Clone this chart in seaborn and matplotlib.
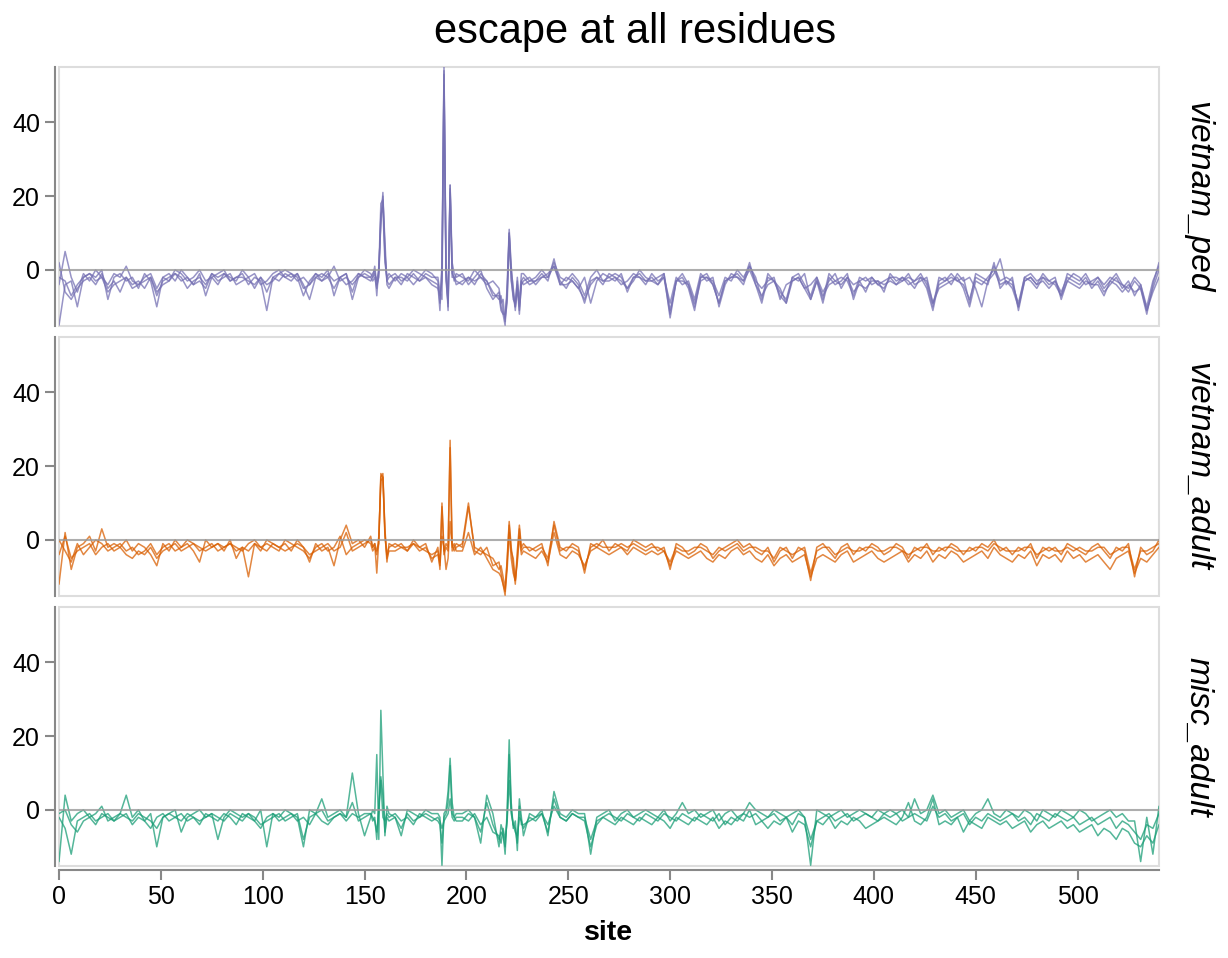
import matplotlib
matplotlib.use("Agg")
import matplotlib.pyplot as plt
import matplotlib.patches as mpatches
import seaborn as sns
import pandas as pd

# site positions (finer steps around the escape peaks)
sites = (list(range(0, 153, 3)) + list(range(153, 163)) + list(range(165, 186, 3))
         + list(range(186, 196)) + list(range(198, 216, 3)) + list(range(216, 228))
         + list(range(228, 541, 3)))

# vietnam_ped
ped_1 = [-15, -4, -3, -10, -2, -1, -2, 0, -8, -2,
         -1, -3, -2, -5, -1, -3, -10, -2, -1, -3,
         0, -2, -4, -1, -7, -2, -1, 0, -3, -2,
         -1, -4, -2, -3, -11, -2, -1, 0, -1, -2,
         -7, -3, -1, -2, 0, -7, -2, -1, -8, -2,
         -1,
         -2, -1, 0, -7, 1, 12, 21, 5, -3, -2,
         -1, -3, -2, 0, -1, -2, -3,
         -4, -11, 2, 55, 1, -11, 23, 2, -1, -2,
         -1, -4, -2, 0, -5, -8,
         -6, -10, -12, -15, -4, 11, 1, -6, -11, -4, -12, -3,
         -2, -4, -3, -1, -3, 3, -4, -2, -3, -5,
         -2, -9, -3, -1, -2, -3, -1, -6, -2, -1,
         -3, -2, -4, -1, -13, -3, -2, -5, -11, -2,
         -1, -4, -9, -3, -2, -1, -3, 2, -4, -9,
         -2, -3, -5, -9, -2, -3, -1, -8, -3, -9,
         -2, -4, -3, -1, -8, -3, -2, -4, -3, -6,
         -1, -3, -2, -4, -3, -2, -5, -11, -3, -2,
         -4, -1, -3, -2, -5, -10, -3, -1, 3, -4,
         -2, -11, -3, -2, -4, -1, -3, -2, -8, -3,
         -1, -2, -4, -3, -2, -5, -3, -1, -4, -6,
         -3, -5, -12, -4, 2]
ped_2 = [2, -6, -8, -5, -3, -2, -4, -1, -5, -3,
         -6, -2, -4, -3, -5, -2, -6, -4, -3, -1,
         -2, -5, -3, -2, -4, -1, -3, -2, -1, -4,
         -3, -2, -5, -2, -4, -3, -1, -2, -3, -1,
         -4, -8, -2, -3, -1, -3, -2, -4, -3, -1,
         -2,
         -3, -2, -1, -3, 0, 18, 19, 8, -4, -5,
         -2, -4, -1, -2, -3, -1, -2,
         -2, -6, -8, 53, -3, -9, 21, -1, -2, -4,
         -3, -2, -4, -1, -3, -6,
         -8, -7, -11, -13, -9, 9, -2, -8, -9, -3, -11, -4,
         -3, -2, -4, -2, -1, 1, -3, -5, -2, -4,
         -9, -3, -2, -4, -1, -2, -4, -3, -1, -2,
         -4, -1, -3, -2, -9, -2, -4, -3, -8, -1,
         -3, -2, -10, -4, -1, -2, -4, 1, -3, -5,
         -3, -2, -8, -4, -3, -2, -5, -4, -2, -6,
         -3, -1, -5, -2, -4, -3, -6, -2, -4, -3,
         -2, -4, -3, -1, -4, -3, -2, -9, -4, -3,
         -2, -3, -4, -8, -2, -3, -4, 2, -5, -3,
         -4, -9, -2, -3, -5, -2, -4, -3, -6, -2,
         -3, -4, -2, -5, -3, -6, -4, -2, -5, -3,
         -7, -4, -11, -5, 0]
ped_3 = [-4, 5, -2, -6, -1, -3, 0, -2, -4, -1,
         -2, 1, -3, -4, -2, -1, -5, -2, -3, 0,
         -1, -3, -2, 0, -3, -2, -4, -1, -2, -3,
         0, -2, -1, -4, -3, -1, 0, -2, -1, -3,
         -2, -4, -1, -3, -2, 1, -3, -2, -4, -2,
         0,
         -1, -2, 1, -4, -2, 15, 17, 2, -2, -1,
         -3, -1, -2, -4, -2, 0, -1,
         -3, -9, 0, 50, 0, -10, 22, 0, -3, -1,
         -2, -3, 0, -2, -4, -3,
         -5, -9, -8, -14, -6, 10, 0, -5, -10, -2, -9, -1,
         -1, -3, -2, 0, -2, 2, -2, -3, -1, -3,
         -7, -2, 0, -3, -2, -1, -2, -5, -3, 0,
         -2, -3, -2, -1, -11, -3, -1, -4, -9, -2,
         -2, -3, -7, -2, -3, 0, -2, 1, -2, -8,
         -1, -3, -6, -8, -2, -1, -4, -7, -2, -8,
         -1, -3, -2, -3, -7, -2, -3, -2, -4, -5,
         -2, -2, -3, -2, -3, -1, -4, -10, -2, -3,
         -1, -3, -2, -9, -1, -2, -3, 1, -3, -2,
         -3, -10, -2, -1, -3, -2, -3, -4, -7, -1,
         -2, -3, -1, -4, -2, -4, -2, -3, -4, -5,
         -2, -4, -10, -3, 1]
ped_4 = [-2, -3, -7, -4, -2, -1, -3, -2, -6, -4,
         -3, -2, -5, -4, -3, -2, -7, -3, -2, -1,
         -3, -2, -4, -3, -5, -1, -2, -1, -3, -2,
         -2, -3, -4, -2, -6, -2, -3, -1, -2, -1,
         -5, -4, -2, -1, -2, -5, -2, -1, -6, -1,
         -2,
         -2, -3, -2, -5, -1, 14, 20, 4, -3, -4,
         -2, -2, -3, -1, -3, -2, -4,
         -5, -7, -3, 54, -2, -8, 23, -2, -2, -3,
         -4, -2, -3, -2, -3, -7,
         -7, -11, -12, -12, -7, 10, -3, -7, -10, -5, -10, -3,
         -4, -3, -3, -2, -2, 1, -4, -4, -3, -5,
         -8, -4, -2, -3, -3, -2, -3, -5, -2, -2,
         -3, -3, -4, -2, -12, -3, -3, -4, -10, -3,
         -2, -4, -9, -3, -2, -2, -3, 0, -4, -7,
         -4, -3, -7, -9, -3, -2, -5, -8, -3, -7,
         -4, -3, -4, -2, -6, -4, -5, -3, -3, -4,
         -3, -4, -2, -3, -5, -2, -3, -9, -5, -4,
         -3, -2, -5, -10, -3, -4, -2, 0, -4, -3,
         -5, -10, -3, -2, -4, -3, -5, -3, -7, -3,
         -4, -5, -3, -4, -4, -7, -3, -4, -6, -4,
         -6, -5, -11, -6, -2]

# vietnam_adult
adult_1 = [-12, 2, -8, -2, -1, 1, -3, 3, -2, -1,
           -2, 0, -3, -1, -2, -4, -7, -1, -3, 0,
           -2, -1, -3, -6, 0, -2, -1, -3, 0, -5,
           -2, -10, -1, -3, 0, -1, -2, -1, -3, 0,
           -2, -6, -1, -3, -2, -7, 0, 4, -1, 0,
           -2,
           1, -2, -1, -9, 0, 17, 18, 2, -6, -1,
           -2, -1, -3, 0, -2, -1, -6,
           -2, -8, 10, -3, -1, -2, 27, -1, -3, -2,
           -1, 10, -3, -4, -2, -7,
           -6, -9, -12, -15, -5, 5, -2, -7, -12, -3, 4, -2,
           -1, -3, -2, -1, -7, 5, -2, -3, -1, -2,
           -9, -1, -2, 0, -3, -1, -2, -3, 0, -1,
           -2, -1, -3, -2, -8, -1, -2, -4, -3, -1,
           -2, -5, -3, -2, -1, 0, -2, -1, -3, -4,
           -2, -6, -3, -2, -5, -2, -3, -11, -2, -1,
           -3, -5, -2, -1, -4, -2, -3, -1, -2, -4,
           -3, -1, -2, -5, -2, -3, -1, -4, -2, -3,
           -1, -2, -4, -2, -3, -1, -2, 0, -3, -2,
           -4, -2, -3, -1, -5, -2, -3, -2, -4, -1,
           -2, -3, -4, -2, -1, -3, -5, -2, -3, -1,
           -10, -2, -4, -3, 0]
adult_2 = [0, -3, -6, -1, -4, -2, 0, -1, -3, -2,
           -1, -3, -2, -4, -3, -1, -4, -2, -1, -3,
           -2, 0, -1, -3, -2, -1, -3, -2, -1, -2,
           -3, -1, 0, -2, -1, -2, -3, 0, -1, -2,
           -3, -5, -2, -1, -3, -2, 1, -4, -2, -1,
           0,
           -1, -3, -2, -4, 1, 16, 17, 1, -4, -2,
           -1, -2, -3, -1, -2, -3, -4,
           -3, -6, 9, -4, -2, -3, 25, -3, -2, -1,
           -2, 9, -2, -3, -4, -5,
           -8, -7, -10, -13, -6, 4, -3, -5, -11, -5, 3, -3,
           -2, -2, -3, -2, -5, 4, -3, -2, -2, -3,
           -8, -2, -1, -2, -2, -2, -1, -2, -1, -2,
           -3, -2, -2, -3, -6, -2, -3, -3, -2, -2,
           -3, -4, -2, -3, -2, -1, -3, -2, -2, -3,
           -3, -5, -2, -3, -4, -3, -2, -9, -3, -2,
           -2, -4, -3, -2, -3, -3, -2, -2, -3, -3,
           -2, -2, -3, -4, -3, -2, -2, -3, -3, -2,
           -2, -3, -3, -3, -2, -2, -3, -1, -2, -3,
           -3, -3, -2, -2, -4, -3, -2, -3, -3, -2,
           -3, -2, -3, -3, -2, -2, -4, -3, -2, -2,
           -8, -3, -3, -2, -1]
adult_3 = [-4, 1, -5, -3, -2, -1, -4, -2, -1, -3,
           -2, -4, -5, -3, -4, -2, -5, -3, -2, -1,
           -3, -2, -1, -2, -3, -2, -1, -2, -1, -3,
           -2, -3, -1, -2, -3, -1, -2, -3, -2, -1,
           -2, -4, -3, -2, -1, -3, -2, 2, -3, -2,
           -1,
           0, -2, -1, -3, -1, 18, 17, 3, -5, -3,
           -3, -2, -2, -1, -3, -2, -5,
           -4, -7, 1, -2, -8, -5, 5, -2, -1, -3,
           -3, 2, -4, -2, -5, -8,
           -9, -10, -12, -14, -8, 2, -5, -9, -11, -6, 1, -4,
           -3, -4, -5, -3, -6, 2, -4, -5, -3, -4,
           -7, -3, -2, -3, -4, -3, -2, -4, -2, -3,
           -4, -3, -4, -3, -7, -3, -4, -5, -4, -3,
           -5, -6, -4, -5, -3, -2, -4, -3, -5, -6,
           -4, -7, -5, -4, -6, -5, -4, -10, -5, -4,
           -5, -6, -4, -3, -6, -5, -4, -3, -5, -6,
           -5, -4, -3, -6, -4, -5, -3, -6, -4, -5,
           -3, -4, -6, -5, -4, -3, -5, -2, -4, -5,
           -6, -4, -5, -3, -7, -4, -5, -4, -6, -3,
           -5, -4, -6, -5, -4, -6, -8, -5, -4, -3,
           -9, -5, -6, -4, -2]

# misc_adult
misc_1 = [-14, 4, -3, -1, 0, -2, -1, 1, -3, -2,
          -1, 4, -2, 0, -3, -1, -10, -2, -1, 0,
          -6, -2, -1, 0, -2, -1, -8, -2, 0, -1,
          -2, -1, -3, 0, -10, -1, -2, 0, -1, -2,
          -10, 0, -1, 3, -2, -1, 0, -2, 10, -1,
          -7,
          -2, 0, -1, 15, -8, 27, 10, -7, 1, -1,
          -2, -7, 0, -1, -2, 0, -1,
          -1, -2, -15, -1, 0, 5, 14, 2, -2, -1,
          -1, 0, -2, -9, 4, -1,
          -10, -4, -6, -12, 0, 19, 2, -5, -3, -11, 3, -2,
          -7, -1, -2, 0, -7, 5, -1, -2, 0, -1,
          -1, -12, -2, -1, 0, -3, -1, 0, -2, -1,
          0, -1, -2, 0, -3, -1, 2, -1, 0, -2,
          -1, 0, -3, -1, 0, -2, -1, 2, 0, -1,
          -2, 0, -1, -2, -1, 0, -2, -15, 0, -1,
          -2, -1, 0, -2, -1, 0, -1, -2, 0, -1,
          0, -1, 0, -2, 3, -1, 0, 4, -1, 0,
          -2, -1, 0, -3, -1, 0, 3, -1, -2, 0,
          -1, -2, 0, -1, -3, 0, -1, -2, 0, -1,
          -2, 0, -1, -3, -2, -1, 0, -2, -1, -3,
          -3, -14, -2, -12, 1]
misc_2 = [-2, -5, -12, -3, -2, -1, -3, -2, -1, -3,
          -2, -1, -4, -2, -3, -5, -2, -1, -3, -2,
          -1, -3, -2, -4, -1, -2, -3, -1, -2, -4,
          -1, -2, -3, -5, -2, -1, -3, -2, -1, -3,
          -2, -4, -1, 0, -3, -2, -1, -3, -1, -2,
          -1,
          -1, -3, -2, -8, 1, 8, -2, -3, -1, -2,
          -1, -3, -2, -4, -1, -2, -3,
          -2, -3, -5, -3, -2, -1, 3, -2, -3, -2,
          -2, -3, -1, -4, -2, -6,
          -7, -9, -5, -8, -3, 8, -1, -4, -6, -7, -2, -3,
          -5, -2, -3, -1, -4, 1, -2, -3, -1, -2,
          -2, -8, -3, -2, -1, -2, -3, -1, -2, -3,
          -1, -2, -3, -1, -2, -3, -1, -2, -3, -1,
          -2, -3, -1, -4, -2, -3, -1, -2, -1, -3,
          -2, -1, -3, -2, -4, -1, -2, -8, -3, -2,
          -1, -3, -2, -1, -3, -2, -1, -2, -3, -1,
          -2, -1, -3, -2, -1, -2, -3, 1, -2, -1,
          -3, -2, -1, -4, -2, -3, -1, -2, -3, -2,
          -1, -3, -2, -4, -1, -2, -3, -1, -2, -3,
          -2, -4, -3, -2, -4, -3, -2, -5, -3, -4,
          -6, -8, -4, -5, -1]
misc_3 = [-1, 0, -4, -6, -3, -2, -4, -1, -2, -3,
          -1, -2, -3, -1, -2, -3, -5, -2, -1, -2,
          -3, -1, -2, -3, -2, -1, -2, -3, -1, -2,
          -3, -1, -2, -4, -3, -2, -1, -3, -2, -1,
          -8, -2, -1, -3, -4, -2, -1, -2, 2, -3,
          -2,
          -1, -2, -3, -6, 0, 9, 4, -6, -2, -3,
          -2, -5, -1, -3, -2, -1, -2,
          -3, -4, -9, -2, -1, 2, 12, -1, -2, -3,
          -3, -1, -2, -6, 2, -4,
          -8, -6, -7, -10, -2, 15, 0, -4, -5, -9, 1, -4,
          -4, -3, -2, -1, -6, 3, -2, -3, -1, -2,
          -3, -10, -4, -2, -3, -4, -2, -3, -4, -2,
          -3, -4, -2, -3, -5, -2, -3, -4, -2, -3,
          -4, -2, -5, -3, -4, -2, -3, 0, -4, -3,
          -5, -3, -4, -2, -6, -3, -4, -10, -3, -4,
          -2, -5, -3, -4, -2, -3, -5, -4, -3, -2,
          -3, -4, -2, 2, -3, -4, -2, 3, -4, -3,
          -4, -2, -6, -3, -4, -5, -2, -3, -4, -3,
          -5, -4, -3, -6, -4, -3, -5, -4, -3, -5,
          -4, -6, -5, -4, -7, -5, -6, -8, -5, -6,
          -9, -10, -7, -9, -4]

groups = ["vietnam_ped", "vietnam_adult", "misc_adult"]
group_lines = {
    "vietnam_ped": [ped_1, ped_2, ped_3, ped_4],
    "vietnam_adult": [adult_1, adult_2, adult_3],
    "misc_adult": [misc_1, misc_2, misc_3],
}
colors = {"vietnam_ped": "#7570b3", "vietnam_adult": "#d95f02", "misc_adult": "#1b9e77"}

rows = []
for g in groups:
    for i, vals in enumerate(group_lines[g]):
        assert len(vals) == len(sites), (g, i, len(vals), len(sites))
        for s, v in zip(sites, vals):
            rows.append({"group": g, "line": i, "site": s, "escape": v})
df = pd.DataFrame(rows)

sns.set_style("white")
plt.rcParams["font.family"] = ["Liberation Sans", "DejaVu Sans"]
plt.rcParams["text.color"] = "black"
plt.rcParams["xtick.color"] = "#888888"
plt.rcParams["ytick.color"] = "#888888"
plt.rcParams["xtick.labelcolor"] = "black"
plt.rcParams["ytick.labelcolor"] = "black"

W, H = 1228, 958
fig = plt.figure(figsize=(W / 100, H / 100), dpi=100)

panel_left, panel_right = 59, 1159
panel_tops = [67, 337, 607]
panel_h = 259

for k, g in enumerate(groups):
    top = panel_tops[k]
    ax = fig.add_axes([panel_left / W, 1 - (top + panel_h) / H,
                       (panel_right - panel_left) / W, panel_h / H])
    sns.lineplot(data=df[df.group == g], x="site", y="escape", units="line",
                 estimator=None, color=colors[g], lw=1.1, alpha=0.75, ax=ax)
    ax.axhline(0, color="#999999", lw=1.5, alpha=0.8, zorder=3)
    ax.set_xlim(0, 540)
    ax.set_ylim(-15.2, 55)

    for side in ["top", "right", "bottom"]:
        ax.spines[side].set_visible(False)
    ax.spines["left"].set_position(("outward", 2.9))
    ax.spines["left"].set_color("#888888")
    ax.spines["left"].set_linewidth(1.5)
    ax.add_patch(mpatches.Rectangle((0, 0), 1, 1, transform=ax.transAxes, fill=False,
                                    ec="#dddddd", lw=1.5, clip_on=False, zorder=0))

    ax.set_yticks([0, 20, 40])
    ax.tick_params(axis="y", left=True, length=7.2, width=1.5, color="#888888",
                   labelcolor="black", labelsize=18, pad=3.6)
    ax.set_ylabel("")
    ax.set_xlabel("")

    if k == len(groups) - 1:
        ax.spines["bottom"].set_visible(True)
        ax.spines["bottom"].set_position(("outward", 2.9))
        ax.spines["bottom"].set_color("#888888")
        ax.spines["bottom"].set_linewidth(1.5)
        ax.set_xticks(range(0, 501, 50))
        ax.tick_params(axis="x", bottom=True, length=7.2, width=1.5, color="#888888",
                       labelcolor="black", labelsize=18, pad=3.6)
    else:
        ax.set_xticks([])

    ax.text((1198 - panel_left) / (panel_right - panel_left), 0.5, g, rotation=-90,
            style="italic", fontsize=24, color="black", ha="center", va="center",
            transform=ax.transAxes)

fig.text(635 / W, 1 - 32 / H, "escape at all residues", fontsize=30, color="black",
         ha="center", va="center")
fig.text(609 / W, 1 - 933 / H, "site", fontsize=20.5, fontweight="bold", color="black",
         ha="center", va="center")

fig.savefig("out.png", dpi=100)
